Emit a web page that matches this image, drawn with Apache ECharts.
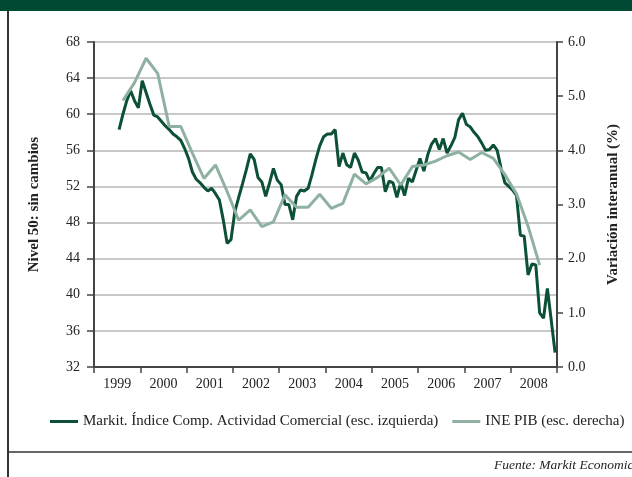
<!DOCTYPE html>
<html>
<head>
<meta charset="utf-8">
<title>Markit PMI vs INE PIB</title>
<script src="https://cdn.jsdelivr.net/npm/echarts@6/dist/echarts.min.js"></script>
<style>
  html, body { margin: 0; padding: 0; background: #fff; }
  #chart { width: 632px; height: 477px; }
</style>
</head>
<body>
<div id="chart"></div>
<script>
// años del eje x
var years = ['1999','2000','2001','2002','2003','2004','2005','2006','2007','2008'];
// Markit, mensual desde jul-1999 (índice 6) hasta dic-2008
var pmiStart = 6;
var pmi = [
  58.3, 60.0, 61.5, 62.6, 61.5, 60.7,
  63.7, 62.4, 61.1, 59.9, 59.7, 59.2, 58.7, 58.3, 57.8, 57.5, 57.1, 56.2,
  55.1, 53.6, 52.8, 52.4, 51.9, 51.5, 51.8, 51.2, 50.5, 48.3, 45.7, 46.1,
  49.2, 50.8, 52.3, 53.9, 55.6, 55.0, 53.0, 52.5, 50.9, 52.4, 54.0, 52.7,
  52.2, 50.0, 50.0, 48.3, 50.9, 51.6, 51.5, 51.8, 53.3, 55.0, 56.5, 57.5,
  57.8, 57.8, 58.3, 54.2, 55.7, 54.4, 54.1, 55.7, 54.9, 53.6, 53.5, 52.6,
  53.4, 54.1, 54.1, 51.4, 52.6, 52.4, 50.8, 52.4, 51.0, 52.9, 52.5, 53.8,
  55.1, 53.7, 55.5, 56.7, 57.3, 56.1, 57.3, 55.7, 56.5, 57.4, 59.4, 60.1,
  58.9, 58.6, 58.0, 57.5, 56.8, 56.0, 56.1, 56.6, 56.0, 54.0, 52.4, 52.0,
  51.6, 51.0, 46.6, 46.5, 42.2, 43.4, 43.3, 38.0, 37.4, 40.7, 37.2, 33.6
];
// INE PIB, trimestral (variación interanual %), desde 3T-1999, en el mes central
var gdpStart = 7;
var gdpStep = 3;
var gdp = [
  4.92, 5.25, 5.70, 5.42, 4.44, 4.44, 3.95, 3.48, 3.73, 3.24,
  2.71, 2.90, 2.59, 2.68, 3.18, 2.95, 2.95, 3.19, 2.93, 3.02,
  3.56, 3.38, 3.50, 3.67, 3.36, 3.70, 3.73, 3.80, 3.90, 3.97,
  3.83, 3.96, 3.85, 3.55, 3.20, 2.60, 1.88
];

var months = [];
years.forEach(function (y) {
  for (var m = 1; m <= 12; m++) months.push(y + '-' + (m < 10 ? '0' + m : m));
});
var pmiData = months.map(function (_, i) {
  return i >= pmiStart ? pmi[i - pmiStart] : null;
});
var gdpData = months.map(function (_, i) {
  var k = (i - gdpStart) / gdpStep;
  return (k >= 0 && k % 1 === 0 && k < gdp.length) ? gdp[k] : null;
});

var serif = '"Liberation Serif", "DejaVu Serif", serif';
var axisColor = '#444';
var dark = '#0c5136';
var light = '#8fb1a1';

var chart = echarts.init(document.getElementById('chart'));
chart.setOption({
  animation: false,
  textStyle: { fontFamily: serif },
  grid: { left: 94, right: 75, top: 42, bottom: 110 },
  legend: {
    left: 45, top: 409,
    itemWidth: 28, itemHeight: 3, itemGap: 14,
    icon: 'rect',
    textStyle: { fontFamily: serif, fontSize: 15, color: '#222' },
    data: ['Markit. Índice Comp. Actividad Comercial (esc. izquierda)', 'INE PIB (esc. derecha)']
  },
  xAxis: [
    {
      type: 'category', data: months, position: 'top', boundaryGap: true,
      axisLine: { show: true, lineStyle: { color: '#555', width: 2 } },
      axisTick: { show: false }, axisLabel: { show: false }, splitLine: { show: false }
    },
    {
      type: 'category', data: years, position: 'bottom', boundaryGap: true,
      axisLine: { show: true, lineStyle: { color: axisColor, width: 2 } },
      axisTick: { show: true, length: 6, lineStyle: { color: axisColor, width: 1.5 } },
      axisLabel: { fontFamily: serif, fontSize: 14, color: '#222', margin: 10 },
      splitLine: { show: false }
    }
  ],
  yAxis: [
    {
      type: 'value', min: 32, max: 68, interval: 4, position: 'left',
      name: 'Nivel 50: sin cambios', nameLocation: 'middle', nameGap: 52, nameRotate: 90,
      nameTextStyle: { fontFamily: serif, fontSize: 15, fontWeight: 'bold', color: '#222' },
      axisLine: { show: true, lineStyle: { color: axisColor, width: 2 } },
      axisTick: { show: true, length: 7, lineStyle: { color: axisColor, width: 1.5 } },
      axisLabel: { fontFamily: serif, fontSize: 14, color: '#222', margin: 14 },
      splitLine: { show: true, lineStyle: { color: '#c8c8c8', width: 2 } }
    },
    {
      type: 'value', min: 0, max: 6, interval: 1, position: 'right',
      name: 'Variación interanual (%)', nameLocation: 'middle', nameGap: 49, nameRotate: 90,
      nameTextStyle: { fontFamily: serif, fontSize: 15, fontWeight: 'bold', color: '#222' },
      axisLine: { show: true, lineStyle: { color: axisColor, width: 2 } },
      axisTick: { show: true, length: 6, lineStyle: { color: axisColor, width: 1.5 } },
      axisLabel: {
        fontFamily: serif, fontSize: 14, color: '#222', margin: 11,
        formatter: function (v) { return v.toFixed(1); }
      },
      splitLine: { show: false }
    }
  ],
  series: [
    {
      name: 'Markit. Índice Comp. Actividad Comercial (esc. izquierda)',
      type: 'line', xAxisIndex: 0, yAxisIndex: 0, data: pmiData,
      showSymbol: false, symbol: 'none',
      itemStyle: { color: dark },
      lineStyle: { color: dark, width: 3 }
    },
    {
      name: 'INE PIB (esc. derecha)',
      type: 'line', xAxisIndex: 0, yAxisIndex: 1, data: gdpData,
      connectNulls: true, showSymbol: false, symbol: 'none',
      itemStyle: { color: light },
      lineStyle: { color: light, width: 3 }
    }
  ],
  graphic: [
    { type: 'rect', left: 0, top: 0, shape: { width: 632, height: 11 }, style: { fill: '#004a33' } },
    { type: 'line', shape: { x1: 8, y1: 11, x2: 8, y2: 477 }, style: { stroke: '#333', lineWidth: 2 } },
    { type: 'line', shape: { x1: 8, y1: 452, x2: 632, y2: 452 }, style: { stroke: '#333', lineWidth: 1.5 } },
    {
      type: 'text', left: 494, top: 458,
      style: { text: 'Fuente: Markit Economics', font: 'italic 13.5px ' + serif, fill: '#222' }
    }
  ]
});
</script>
</body>
</html>
